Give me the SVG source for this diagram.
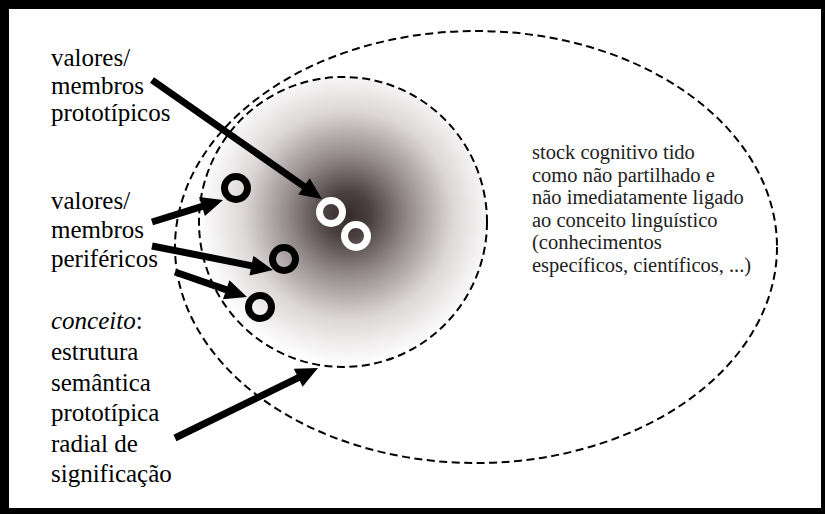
<svg xmlns="http://www.w3.org/2000/svg" width="825" height="514" viewBox="0 0 825 514" font-family="'Liberation Serif', serif">
<style>
.lbl{font-family:'Liberation Serif', serif;font-size:25px;fill:#000}
.note{font-family:'Liberation Serif', serif;font-size:20.5px;fill:#222}
.dash{fill:none;stroke:#000;stroke-width:2;stroke-dasharray:8 4.5}
.arrow{stroke:#000;stroke-width:7;fill:none}
.head{fill:#000}
.ringb{fill:none;stroke:#000;stroke-width:7}
.ringw{fill:none;stroke:#fff;stroke-width:7}
</style>
<defs>
<radialGradient id="core" gradientUnits="userSpaceOnUse" cx="348" cy="215" r="150">
<stop offset="0" stop-color="#352b2b"/>
<stop offset="0.15" stop-color="#4a4040"/>
<stop offset="0.4" stop-color="#948a8a"/>
<stop offset="0.7" stop-color="#ddd8d8"/>
<stop offset="1" stop-color="#ffffff"/>
</radialGradient>
</defs>
<rect x="0" y="0" width="825" height="514" fill="#000"/>
<rect x="9" y="9" width="812" height="499" fill="#fff"/>
<g id="stock">
<ellipse class="dash" cx="476" cy="247" rx="301" ry="216"/>
<text class="note" x="532" y="159">stock cognitivo tido</text>
<text class="note" x="532" y="181.5">como não partilhado e</text>
<text class="note" x="532" y="204">não imediatamente ligado</text>
<text class="note" x="532" y="226.5">ao conceito linguístico</text>
<text class="note" x="532" y="249">(conhecimentos</text>
<text class="note" x="532" y="271.5">específicos, científicos, ...)</text>
</g>
<g id="conceito">
<ellipse cx="343" cy="222" rx="144" ry="145" fill="url(#core)"/>
<ellipse class="dash" cx="343" cy="222" rx="144" ry="145"/>
</g>
<g id="prototipicos">
<circle class="ringw" cx="331" cy="212" r="11.5"/>
<circle class="ringw" cx="356" cy="236" r="11.5"/>
</g>
<g id="perifericos">
<circle class="ringb" cx="236" cy="188" r="11.5"/>
<circle class="ringb" cx="284" cy="259" r="11.5"/>
<circle class="ringb" cx="260" cy="307" r="11.5"/>
</g>
<g id="label-prototipicos">
<text class="lbl" x="51" y="66">valores/</text>
<text class="lbl" x="51" y="93.5">membros</text>
<text class="lbl" x="51" y="121">prototípicos</text>
</g>
<g id="label-perifericos">
<text class="lbl" x="51" y="209">valores/</text>
<text class="lbl" x="51" y="238">membros</text>
<text class="lbl" x="51" y="267">periféricos</text>
</g>
<g id="label-conceito">
<text class="lbl" x="51" y="329"><tspan font-style="italic">conceito</tspan>:</text>
<text class="lbl" x="51" y="360">estrutura</text>
<text class="lbl" x="51" y="390.5">semântica</text>
<text class="lbl" x="51" y="421">prototípica</text>
<text class="lbl" x="51" y="451.5">radial de</text>
<text class="lbl" x="51" y="482">significação</text>
</g>
<g id="connectors">
<line class="arrow" x1="152" y1="80" x2="305.6" y2="187.5"/>
<polygon class="head" points="322,199 298.3,194.6 309.7,178.2"/>
<line class="arrow" x1="152" y1="222" x2="203.9" y2="205.9"/>
<polygon class="head" points="223,200 204.96,216.05 199.04,196.95"/>
<line class="arrow" x1="152" y1="246" x2="253.4" y2="266.1"/>
<polygon class="head" points="273,270 249.46,275.51 253.34,255.89"/>
<line class="arrow" x1="175" y1="272" x2="228.1" y2="290.4"/>
<polygon class="head" points="247,297 222.92,299.25 229.48,280.35"/>
<line class="arrow" x1="175" y1="438" x2="300" y2="376.8"/>
<polygon class="head" points="318,368 302.6,386.7 293.8,368.7"/>
</g>
</svg>
